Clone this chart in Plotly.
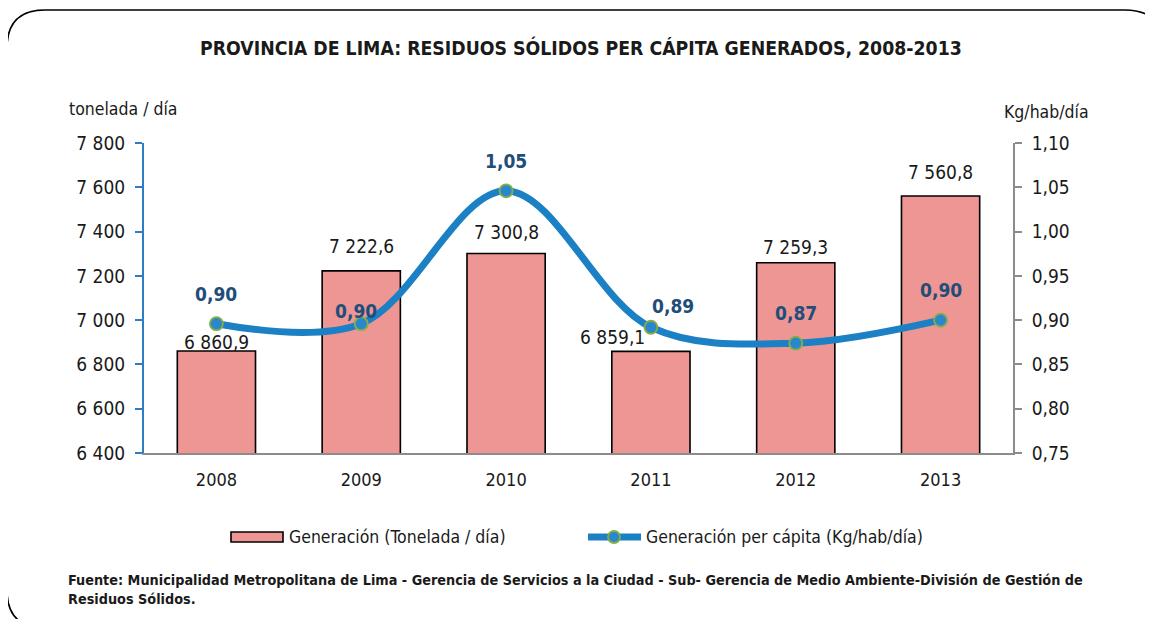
import plotly.graph_objects as go

# ---- data ----
years = ["2008", "2009", "2010", "2011", "2012", "2013"]
generacion = [6860.9, 7222.6, 7300.8, 6859.1, 7259.3, 7560.8]          # tonelada / día
per_capita = [0.896, 0.896, 1.046, 0.892, 0.874, 0.900]                 # Kg/hab/día
left_ticks = [6400, 6600, 6800, 7000, 7200, 7400, 7600, 7800]
right_ticks = [0.75, 0.80, 0.85, 0.90, 0.95, 1.00, 1.05, 1.10]

title_text = "PROVINCIA DE LIMA: RESIDUOS SÓLIDOS PER CÁPITA GENERADOS, 2008-2013"
source_text = ("Fuente: Municipalidad Metropolitana de Lima - Gerencia de Servicios a la Ciudad - "
               "Sub- Gerencia de Medio Ambiente-División de Gestión de<br>Residuos Sólidos.")

# ---- style / layout ----
OFF = 8                      # default page margin of the html body
W, H = 1153 - OFF, 619 - OFF
L, R, T, B = 144 - OFF, 140, 143 - OFF, 166
PW, PH = W - L - R, H - T - B
FONT = "DejaVu Sans Condensed, Liberation Sans Narrow, Arial Narrow, sans-serif"
BAR_COLOR = "#EE9694"
LINE_COLOR = "#1B80C4"
LBL_COLOR = "#1F4E79"
TXT = "#1a1a1a"
xpos = list(range(len(years)))


def px(x):
    return (x - OFF - L) / PW


def py(y):
    return 1 - (y - OFF - T) / PH


def fmt_thousands(v):
    s = f"{v:,.1f}"
    return s.replace(",", " ").replace(".", ",")


fig = go.Figure()
fig.add_trace(go.Bar(
    x=xpos, y=generacion, name="Generación (Tonelada / día)",
    marker=dict(color=BAR_COLOR, line=dict(color="black", width=1.6)),
    width=0.54, showlegend=False,
))
fig.add_trace(go.Scatter(
    x=xpos, y=per_capita, yaxis="y2", name="Generación per cápita (Kg/hab/día)",
    mode="lines+markers",
    line=dict(color=LINE_COLOR, width=7, shape="spline", smoothing=1.0),
    marker=dict(size=13, color="#2A87CB", line=dict(color="#86AE45", width=1.8)),
    showlegend=False,
))

annotations = []
# bar value labels (offsets in px and anchors, as placed in the original chart)
bar_off = [(0, 9, "center"), (0, 25, "center"), (0, 22, "center"),
           (-4, 14, "right"), (0, 16, "center"), (0, 24, "center")]
for xi, v, (dx, dy, anc) in zip(xpos, generacion, bar_off):
    annotations.append(dict(x=xi, y=v, xref="x", yref="y", text=fmt_thousands(v),
                            showarrow=False, xshift=dx, yshift=dy, yanchor="middle",
                            xanchor=anc, font=dict(family=FONT, size=19, color=TXT)))
# line value labels
line_off = [(0, 30), (-5, 13), (0, 30), (22, 21), (0, 30), (0, 30)]
for xi, v, (dx, dy) in zip(xpos, per_capita, line_off):
    annotations.append(dict(x=xi, y=v, xref="x", yref="y2",
                            text="<b>" + f"{v:.2f}".replace(".", ",") + "</b>",
                            showarrow=False, xshift=dx, yshift=dy, yanchor="middle",
                            font=dict(family=FONT, size=19, color=LBL_COLOR)))

# titles and texts
annotations += [
    dict(x=px(581), y=py(48), xref="paper", yref="paper", text="<b>" + title_text + "</b>",
         showarrow=False, xanchor="center", yanchor="middle",
         font=dict(family=FONT, size=19.3, color=TXT)),
    dict(x=px(123), y=py(109), xref="paper", yref="paper", text="tonelada / día",
         showarrow=False, xanchor="center", yanchor="middle",
         font=dict(family=FONT, size=17.5, color=TXT)),
    dict(x=px(1046), y=py(112), xref="paper", yref="paper", text="Kg/hab/día",
         showarrow=False, xanchor="center", yanchor="middle",
         font=dict(family=FONT, size=17.5, color=TXT)),
    dict(x=px(287), y=py(537), xref="paper", yref="paper", text="Generación (Tonelada / día)",
         showarrow=False, xanchor="left", yanchor="middle",
         font=dict(family=FONT, size=17.5, color=TXT)),
    dict(x=px(644), y=py(537), xref="paper", yref="paper", text="Generación per cápita (Kg/hab/día)",
         showarrow=False, xanchor="left", yanchor="middle",
         font=dict(family=FONT, size=17.5, color=TXT)),
    dict(x=px(66), y=py(589), xref="paper", yref="paper", text="<b>" + source_text + "</b>",
         showarrow=False, xanchor="left", yanchor="middle", align="left",
         font=dict(family=FONT, size=14.3, color=TXT)),
]

shapes = []
# legend swatches
shapes.append(dict(type="rect", xref="paper", yref="paper",
                   x0=px(231), x1=px(283), y0=py(542), y1=py(532),
                   fillcolor=BAR_COLOR, line=dict(color="black", width=1.6)))
shapes.append(dict(type="line", xref="paper", yref="paper",
                   x0=px(588), x1=px(641), y0=py(537), y1=py(537),
                   line=dict(color=LINE_COLOR, width=7)))
shapes.append(dict(type="circle", xref="paper", yref="paper",
                   x0=px(608), x1=px(620), y0=py(543), y1=py(531),
                   fillcolor="#2A87CB", line=dict(color="#86AE45", width=1.8)))

# rounded frame
x0, x1, y0, y1, r = 7, 1163, 10, 628, 38
path = (f"M {px(x0)},{py(y0 + r)} Q {px(x0)},{py(y0)} {px(x0 + r)},{py(y0)} "
        f"L {px(x1 - r)},{py(y0)} Q {px(x1)},{py(y0)} {px(x1)},{py(y0 + r)} "
        f"L {px(x1)},{py(y1 - r)} Q {px(x1)},{py(y1)} {px(x1 - r)},{py(y1)} "
        f"L {px(x0 + r)},{py(y1)} Q {px(x0)},{py(y1)} {px(x0)},{py(y1 - r)} Z")
shapes.append(dict(type="path", xref="paper", yref="paper", path=path,
                   line=dict(color="black", width=1.6), layer="below"))

fig.update_layout(
    width=W, height=H,
    margin=dict(l=L, r=R, t=T, b=B, pad=0),
    paper_bgcolor="white", plot_bgcolor="white",
    font=dict(family=FONT, size=19, color=TXT),
    xaxis=dict(range=[-0.5, 5.5], tickvals=xpos, ticktext=years,
               showgrid=False, showline=True, linecolor="#8c8c8c",
               linewidth=1.5, ticks="", tickfont=dict(size=18, color=TXT),
               ticklabelstandoff=10, zeroline=False),
    yaxis=dict(range=[6400, 7800], tickvals=left_ticks,
               ticktext=[f"{v:,}".replace(",", " ") for v in left_ticks],
               showgrid=False, zeroline=False, showline=True, linecolor="#2E7DC0", linewidth=2,
               ticks="outside", ticklen=7, tickcolor="#2E7DC0", tickwidth=2,
               tickfont=dict(size=19, color=TXT), ticklabelstandoff=6),
    yaxis2=dict(range=[0.75, 1.10], tickvals=right_ticks,
                ticktext=[f"{v:.2f}".replace(".", ",") for v in right_ticks],
                overlaying="y", side="right", showgrid=False, zeroline=False,
                showline=True, linecolor="#8c8c8c", linewidth=1.8,
                ticks="outside", ticklen=7, tickcolor="#8c8c8c", tickwidth=1.8,
                tickfont=dict(size=19, color=TXT), ticklabelstandoff=6),
    annotations=annotations,
    shapes=shapes,
    showlegend=False,
)

fig.write_html("out.html")
